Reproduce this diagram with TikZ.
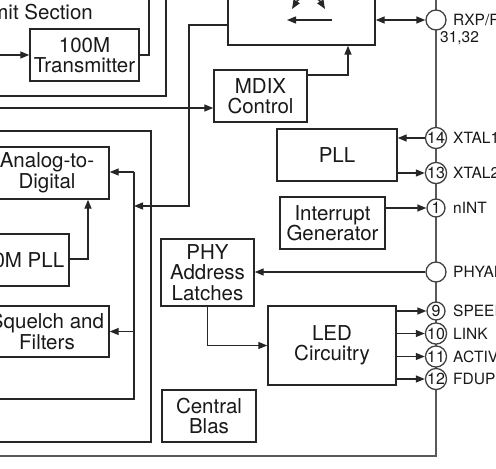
\documentclass[tikz,border=0pt]{standalone}
\usepackage{fontspec}
\setmainfont{TeX Gyre Heros}
\usetikzlibrary{arrows.meta}
\begin{document}
\begin{tikzpicture}[x=1pt,y=-1pt,
  box/.style={draw=black!85, line width=1.4pt, fill=white, inner sep=0pt, align=center,
    font=\fontsize{20.5}{20.5}\selectfont, text=black!90},
  frame/.style={draw=black!85, line width=1.4pt, inner sep=0pt},
  line/.style={draw=black!85, line width=1.35pt},
  arr/.style={line, -{Triangle[length=9pt,width=7pt]}},
  darr/.style={line, {Triangle[length=9pt,width=7pt]}-{Triangle[length=9pt,width=7pt]}},
  pin/.style={circle, draw=black!75, line width=1.3pt, fill=white, minimum size=18pt,
    inner sep=0pt, font=\fontsize{16}{16}\selectfont, text=black!90},
  epin/.style={pin, minimum size=20pt},
  lbl/.style={font=\fontsize{15.5}{15.5}\selectfont, anchor=west, inner sep=0pt, text=black!90},
  bus/.style={draw=black!65, line width=1.7pt}]

\clip (0,0) rectangle (496,469);

% section frames
\node[frame, minimum width=226pt, minimum height=156pt] (txframe) at (53,18) {};
\node[frame, minimum width=211pt, minimum height=311pt] (rxframe) at (45.5,286.5) {};
\node[font=\fontsize{20.5}{20.5}\selectfont, anchor=base east, inner sep=0pt, text=black!90] (txsec) at (93,19) {Transmit Section};

% bus line
\coordinate (bustop) at (436,-10);
\coordinate (busbend) at (436,456);
\coordinate (busleft) at (-10,456);
\draw[bus] (bustop) -- (busbend) -- (busleft);

% blocks
\node[box, minimum width=109pt, minimum height=52pt] (tx) at (84.5,55) {100M\\Transmitter};
\node[box, minimum width=147pt, minimum height=75pt] (sw) at (301.5,7.5) {};
\node[box, minimum width=93pt, minimum height=52pt] (mdix) at (260.5,96) {MDIX\\Control};
\node[box, minimum width=120pt, minimum height=52pt] (pll) at (337,155) {PLL};
\node[box, minimum width=105pt, minimum height=52pt] (intg) at (332.5,223) {Interrupt\\Generator};
\node[box, minimum width=93pt, minimum height=67pt] (phy) at (207.5,272.5) {PHY\\Address\\Latches};
\node[box, minimum width=128pt, minimum height=79pt] (led) at (332,345.5) {LED\\Circuitry};
\node[box, minimum width=94pt, minimum height=52pt] (cb) at (209,416) {Central\\Blas};
\node[box, minimum width=124pt, minimum height=52pt] (ad) at (47,173) {Analog-to-\\Digital};
\node[box, minimum width=103pt, minimum height=52pt] (pllh) at (17.5,260) {100M PLL};
\node[box, minimum width=124pt, minimum height=51pt] (sq) at (47,331.5) {Squelch and\\Filters};

% switch symbol
\draw[line, -{Triangle[length=9pt,width=7pt]}] (332,20) -- (287,20);
\draw[darr] (292,9) .. controls (300,-4) and (317,-4) .. (325,9);

% pins
\node[epin] (rxp) at (436,20) {};
\node[pin] (c14) at (436,138) {14};
\node[pin] (c13) at (436,173) {13};
\node[pin] (c1) at (436,208) {1};
\node[epin] (phyad) at (436,272) {};
\node[pin] (c9) at (436,311) {9};
\node[pin] (c10) at (436,333.5) {10};
\node[pin] (c11) at (436,356.5) {11};
\node[pin] (c12) at (436,379) {12};

\node[lbl] (lrxp) at (453,20) {RXP/RXN};
\node[lbl] (l3132) at (440,38) {31,32};
\node[lbl] (lx1) at (453,138) {XTAL1};
\node[lbl] (lx2) at (453,173) {XTAL2};
\node[lbl] (lint) at (453,208) {nINT};
\node[lbl] (lphy) at (453,272) {PHYAD};
\node[lbl] (lspd) at (453,311) {SPEED};
\node[lbl] (llnk) at (453,333.5) {LINK};
\node[lbl] (lact) at (453,356.5) {ACTIVITY};
\node[lbl] (lfd) at (453,379) {FDUPLEX};

% transmit connectors
\coordinate (txin) at (-10,55);
\coordinate (txup) at (149,-10);
\draw[arr] (txin) -- (tx.west);
\draw[line] (tx.east) -- (txup |- tx.east) -- (txup);

% mdix connectors
\coordinate (min) at (-10,108);
\draw[arr] (min) -- (min -| mdix.west);
\coordinate (k4) at (348,75);
\draw[arr] (mdix.east |- k4) -- (k4) -- (k4 |- sw.south);
\draw[darr] (rxp.west -| sw.east) -- (rxp.west);

% switch to receive
\coordinate (rtop) at (134,172);
\coordinate (rbot) at (134,399);
\coordinate (rleft) at (-10,399);
\coordinate (k1) at (189,25);
\coordinate (k2) at (189,206);
\draw[arr] (sw.west |- k1) -- (k1) -- (k2) -- (k2 -| rtop);
\draw[line] (rtop) -- (rbot) -- (rleft);
\draw[arr] (rtop) -- (ad.east |- rtop);
\draw[arr] (rbot |- sq.east) -- (sq.east);
\coordinate (k3) at (88,259);
\draw[arr] (pllh.east |- k3) -- (k3) -- (k3 |- ad.south);

% right side
\draw[arr] (c14.west) -- (c14.west -| pll.east);
\draw[arr] (c13.west -| pll.east) -- (c13.west);
\draw[arr] (c1.west -| intg.east) -- (c1.west);
\draw[arr] (phyad.west) -- (phyad.west -| phy.east);
\draw[arr] (phy.south) -- (phy.south |- led.west) -- (led.west);
\draw[arr] (c9.west -| led.east) -- (c9.west);
\draw[arr] (c10.west -| led.east) -- (c10.west);
\draw[arr] (c11.west -| led.east) -- (c11.west);
\draw[arr] (c12.west -| led.east) -- (c12.west);
\end{tikzpicture}
\end{document}
